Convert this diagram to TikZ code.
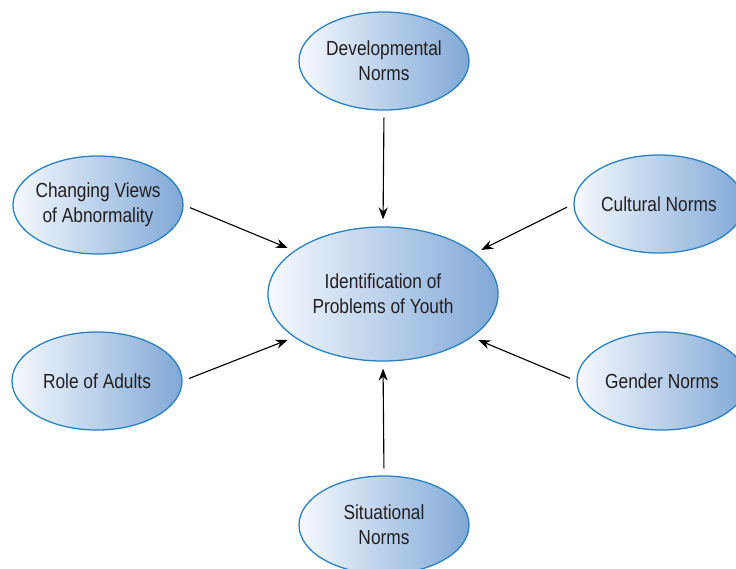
\documentclass[tikz,border=0pt]{standalone}
\usepackage{fontspec}
\setmainfont{Liberation Sans}[FakeStretch=0.85]
\usepackage{tikz}
\usetikzlibrary{shapes.geometric, arrows.meta}
\definecolor{rimblue}{RGB}{38,128,196}
\definecolor{lightfill}{RGB}{246,249,254}
\definecolor{darkfill}{RGB}{128,168,214}
\definecolor{inktext}{RGB}{35,31,32}

\begin{document}
\begin{tikzpicture}[x=0.025cm, y=-0.025cm]
% Define styles
\tikzstyle{norm} = [ellipse, minimum width=4.25cm, minimum height=2.45cm, inner xsep=-4pt, inner ysep=0pt, align=center, draw=rimblue, line width=0.9pt, left color=lightfill, right color=darkfill, text=inktext, font=\fontsize{14.5}{18}\selectfont]
\tikzstyle{focus} = [norm, minimum width=5.75cm, minimum height=3.35cm]
\tikzstyle{arrow} = [line width=0.8pt, -{Stealth[length=8.5pt, width=6.5pt]}, shorten <=5pt, shorten >=5pt]
\useasboundingbox (0,0) rectangle (736,568);
% Place nodes
\node (id) [focus] at (383,294) {Identification of\\Problems of Youth};
\node (dev) [norm] at (384,61) {Developmental\\Norms};
\node (views) [norm] at (98,205) {Changing Views\\of Abnormality};
\node (cult) [norm] at (659,204) {Cultural Norms};
\node (adults) [norm] at (97,381) {Role of Adults};
\node (gender) [norm] at (662,381) {Gender Norms};
\node (sit) [norm] at (384,525) {Situational\\Norms};
% Draw arrows
\draw [arrow] (dev.south) -- (id.north);
\draw [arrow] (views.east) -- (id.154);
\draw [arrow] (cult.west) -- (id.24);
\draw [arrow] (adults.east) -- (id.206);
\draw [arrow] (gender.west) -- (id.334);
\draw [arrow] (sit.north) -- (id.south);
\end{tikzpicture}
\end{document}
